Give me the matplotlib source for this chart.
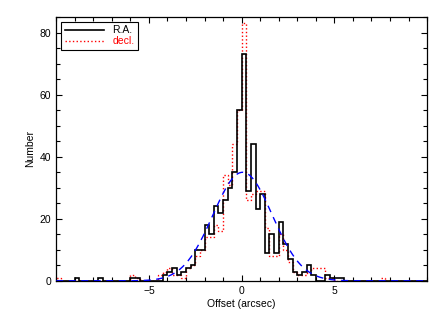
import numpy as np
import matplotlib
matplotlib.use('Agg')
import matplotlib.pyplot as plt
from matplotlib.ticker import MultipleLocator, FixedLocator

plt.rcParams['font.family'] = ['Liberation Sans', 'DejaVu Sans']

# %%
# Histogram bins: 0.25 arcsec wide, from -10 to 10 (80 bins)
bin_lo, bin_hi, bin_w = -10.0, 10.0, 0.25

# Counts per bin, left to right
ra_counts = [0, 0, 0, 0, 1, 0, 0, 0, 0, 1,
             0, 0, 0, 0, 0, 0, 1, 1, 0, 0,
             0, 0, 0, 2, 3, 4, 2, 3, 4, 5,
             10, 10, 18, 15, 24, 22, 26, 30, 35, 55,
             73, 29, 44, 23, 28, 9, 15, 9, 19, 12,
             7, 3, 2, 3, 5, 2, 0, 0, 2, 1,
             1, 1, 0, 0, 0, 0, 0, 0, 0, 0,
             0, 0, 0, 0, 0, 0, 0, 0, 0, 0]
dec_counts = [1, 0, 0, 0, 0, 0, 0, 0, 0, 0,
              0, 0, 0, 0, 0, 0, 2, 1, 0, 0,
              0, 0, 2, 3, 4, 2, 2, 1, 4, 5,
              8, 10, 14, 14, 18, 16, 34, 31, 44, 55,
              83, 26, 28, 29, 29, 17, 8, 8, 15, 10,
              6, 3, 2, 2, 3, 4, 4, 4, 1, 1,
              0, 0, 0, 0, 0, 0, 0, 0, 0, 0,
              1, 0, 0, 0, 0, 0, 0, 0, 0, 0]

# Gaussian fit parameters (amplitude, centre, sigma)
fit_amp, fit_mu, fit_sigma = 35.0, 0.05, 1.6

# %%
edges = np.arange(bin_lo, bin_hi + bin_w / 2, bin_w)
xfit = np.linspace(bin_lo, bin_hi, 400)
yfit = fit_amp * np.exp(-0.5 * ((xfit - fit_mu) / fit_sigma) ** 2)

fig = plt.figure(figsize=(4.43, 3.17), dpi=100)
ax = fig.add_axes([0.127, 0.114, 0.837, 0.832])

ax.stairs(dec_counts, edges, color='red', linestyle=':', linewidth=1.0,
          label='decl.', zorder=2)
ax.stairs(ra_counts, edges, color='black', linewidth=1.2,
          label='R.A.', zorder=3)
ax.plot(xfit, yfit, color='blue', linestyle=(0, (5, 4)), linewidth=1.0,
        zorder=4)

ax.set_xlim(bin_lo, bin_hi)
ax.set_ylim(0, 85)
ax.xaxis.set_major_locator(FixedLocator([-5, 0, 5]))
ax.xaxis.set_minor_locator(MultipleLocator(1))
ax.yaxis.set_major_locator(MultipleLocator(20))
ax.yaxis.set_minor_locator(MultipleLocator(5))
ax.tick_params(which='both', direction='in', top=True, right=True,
               labelsize=7.5, width=0.8)
ax.tick_params(which='major', length=4)
ax.tick_params(which='minor', length=3)
for s in ax.spines.values():
    s.set_linewidth(0.9)

ax.set_xlabel('Offset (arcsec)', fontsize=7.5, labelpad=2)
ax.set_ylabel('Number', fontsize=7.5, labelpad=3)

h, l = ax.get_legend_handles_labels()
leg = ax.legend(h[::-1], l[::-1], loc='upper left', fontsize=7.5,
                handlelength=3.8, fancybox=False, edgecolor='black',
                framealpha=1, borderpad=0.3, labelspacing=0.1,
                handletextpad=0.8, borderaxespad=0.5,
                labelcolor=['black', 'red'])
leg.get_frame().set_linewidth(0.8)

fig.savefig('out.png', dpi=100)
